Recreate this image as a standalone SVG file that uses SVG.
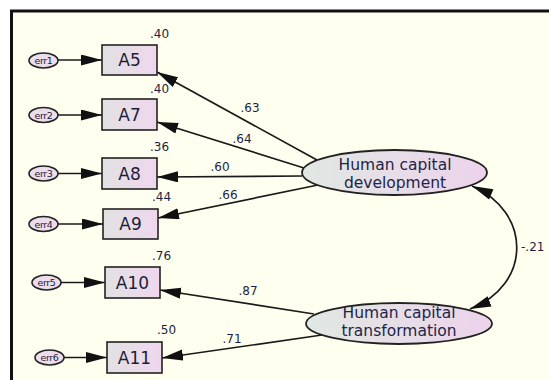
<svg xmlns="http://www.w3.org/2000/svg" width="549" height="380" viewBox="0 0 549 380">
<defs>
<style>
.box{stroke:#222;stroke-width:1.6;fill:url(#gBox)}
.err{stroke:#222;stroke-width:1.6;fill:#ecdcec}
.lat{stroke:#222;stroke-width:1.8;fill:url(#gLat)}
.lbl{font-family:"DejaVu Sans",sans-serif;font-size:17px;fill:#1e1e38;text-anchor:middle}
.llbl{font-family:"DejaVu Sans",sans-serif;font-size:15.5px;fill:#1e2448;text-anchor:middle}
.elbl{font-family:"DejaVu Sans",sans-serif;font-size:9.5px;fill:#1e1e38;text-anchor:middle;letter-spacing:-0.4px}
.num{font-family:"DejaVu Sans",sans-serif;font-size:12px;fill:#1e1e40}
.cn{stroke:#1a1a1a;stroke-width:1.7;fill:none;marker-end:url(#ah)}
</style>
<linearGradient id="gBox" x1="0" y1="0" x2="1" y2="0">
<stop offset="0" stop-color="#e2e2e2"/><stop offset="1" stop-color="#efd6ee"/>
</linearGradient>
<linearGradient id="gLat" x1="0" y1="0" x2="1" y2="0">
<stop offset="0" stop-color="#e0e8e2"/><stop offset="1" stop-color="#edd3ec"/>
</linearGradient>
<marker id="ah" markerUnits="userSpaceOnUse" markerWidth="22" markerHeight="12" refX="21" refY="5.5" orient="auto">
<path d="M0,0 L21,5.5 L0,11 z" fill="#111"/>
</marker>
<marker id="ahs" markerUnits="userSpaceOnUse" markerWidth="22" markerHeight="12" refX="0" refY="5.5" orient="auto">
<path d="M21,0 L0,5.5 L21,11 z" fill="#111"/>
</marker>
</defs>
<rect x="0" y="0" width="549" height="380" fill="#ffffff"/>
<rect x="11.5" y="11" width="560" height="400" fill="#fffff0" stroke="#111" stroke-width="3"/>

<g id="connectors">
<line class="cn" x1="58" y1="60" x2="102" y2="60"/>
<line class="cn" x1="58" y1="115" x2="102" y2="115"/>
<line class="cn" x1="58" y1="173.5" x2="102" y2="173.5"/>
<line class="cn" x1="58" y1="224" x2="103" y2="224"/>
<line class="cn" x1="61" y1="282.5" x2="105" y2="282.5"/>
<line class="cn" x1="64" y1="357.5" x2="107" y2="357.5"/>
<line class="cn" x1="317" y1="160" x2="157" y2="72"/>
<line class="cn" x1="304" y1="168" x2="157" y2="122"/>
<line class="cn" x1="302" y1="176" x2="157" y2="177"/>
<line class="cn" x1="318" y1="185" x2="158" y2="218"/>
<line class="cn" x1="314" y1="314" x2="160" y2="290"/>
<line class="cn" x1="322" y1="335" x2="162" y2="358"/>
<path class="cn" marker-start="url(#ahs)" d="M472,186 C532,212 532,285 470,309"/>
<text class="num" x="250" y="112" text-anchor="middle">.63</text>
<text class="num" x="242" y="143" text-anchor="middle">.64</text>
<text class="num" x="220" y="171" text-anchor="middle">.60</text>
<text class="num" x="228" y="199" text-anchor="middle">.66</text>
<text class="num" x="248" y="295" text-anchor="middle">.87</text>
<text class="num" x="232" y="343" text-anchor="middle">.71</text>
<text class="num" x="521" y="251">-.21</text>
</g>

<g id="err1"><ellipse class="err" cx="43.5" cy="60.5" rx="14.5" ry="7.5"/><text class="elbl" x="43.5" y="64">err1</text></g>
<g id="err2"><ellipse class="err" cx="43.5" cy="115" rx="14.5" ry="7.5"/><text class="elbl" x="43.5" y="118.5">err2</text></g>
<g id="err3"><ellipse class="err" cx="43.5" cy="173.5" rx="14.5" ry="7.5"/><text class="elbl" x="43.5" y="177">err3</text></g>
<g id="err4"><ellipse class="err" cx="43.5" cy="224" rx="14.5" ry="7.5"/><text class="elbl" x="43.5" y="227.5">err4</text></g>
<g id="err5"><ellipse class="err" cx="46.5" cy="282.5" rx="14.5" ry="7.5"/><text class="elbl" x="46.5" y="286">err5</text></g>
<g id="err6"><ellipse class="err" cx="49.5" cy="357.5" rx="14.5" ry="7.5"/><text class="elbl" x="49.5" y="361">err6</text></g>

<g id="A5"><rect class="box" x="102" y="45" width="55" height="30"/><text class="lbl" x="129.5" y="66">A5</text><text class="num" x="150" y="38">.40</text></g>
<g id="A7"><rect class="box" x="102" y="99" width="55" height="31"/><text class="lbl" x="129.5" y="120.5">A7</text><text class="num" x="150" y="93">.40</text></g>
<g id="A8"><rect class="box" x="102" y="158" width="55" height="31"/><text class="lbl" x="129.5" y="179.5">A8</text><text class="num" x="150" y="151">.36</text></g>
<g id="A9"><rect class="box" x="103" y="209" width="55" height="30"/><text class="lbl" x="130.5" y="230">A9</text><text class="num" x="152" y="201">.44</text></g>
<g id="A10"><rect class="box" x="105" y="267" width="55" height="31"/><text class="lbl" x="132.5" y="288.5">A10</text><text class="num" x="152" y="260">.76</text></g>
<g id="A11"><rect class="box" x="107" y="342" width="55" height="31"/><text class="lbl" x="134.5" y="363.5">A11</text><text class="num" x="157" y="334">.50</text></g>

<g id="HCD"><ellipse class="lat" cx="394.5" cy="172.5" rx="92.5" ry="22.5"/><text class="llbl" x="395" y="170">Human capital</text><text class="llbl" x="395" y="187.5">development</text></g>
<g id="HCT"><ellipse class="lat" cx="399" cy="323.5" rx="93" ry="20.5"/><text class="llbl" x="399" y="318">Human capital</text><text class="llbl" x="399" y="335.5">transformation</text></g>
</svg>
